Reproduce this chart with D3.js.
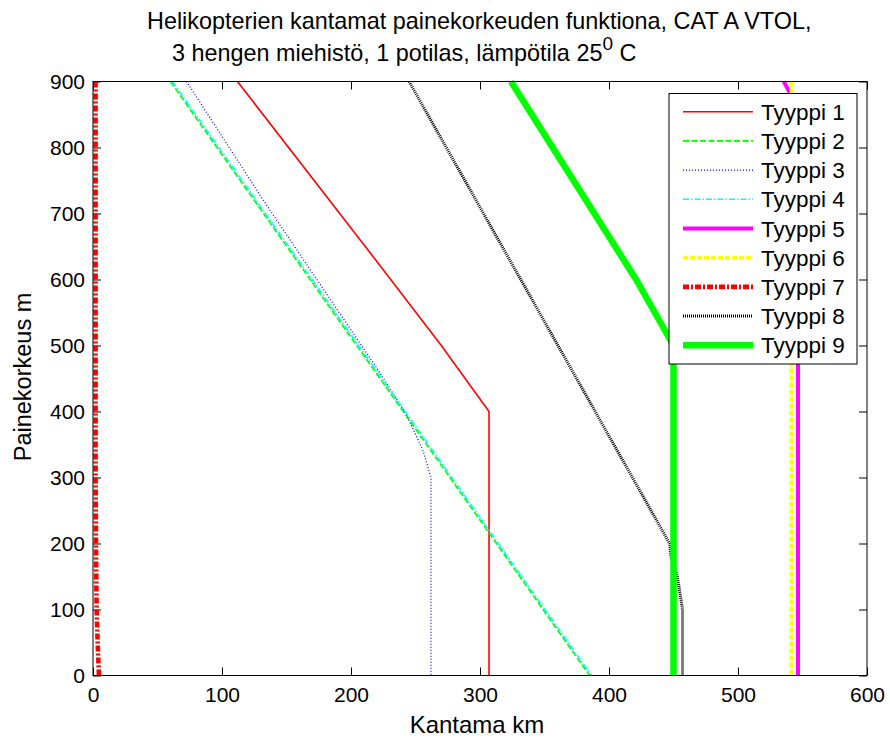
<!DOCTYPE html>
<html>
<head>
<meta charset="utf-8">
<script src="https://cdn.jsdelivr.net/npm/d3@7"></script>
<style>
  body { margin: 0; background: #fff; }
  text { font-family: "Liberation Sans", Arial, sans-serif; fill: #000; }
</style>
</head>
<body>
<div id="chart"></div>
<script>
// range (km) as function of pressure altitude (m)
var tyyppi1 = [{h:900, r:112}, {h:630, r:219}, {h:500, r:270}, {h:400, r:307}, {h:0, r:307}];
var tyyppi2 = [{h:900, r:60}, {h:0, r:385}];
var tyyppi3 = [{h:900, r:72.5}, {h:720, r:132}, {h:460, r:222}, {h:395, r:243}, {h:340, r:256}, {h:300, r:262}, {h:0, r:262}];
var tyyppi4 = [{h:900, r:61.5}, {h:0, r:386.5}];
var tyyppi5 = [{h:900, r:535.5}, {h:860, r:546.5}, {h:0, r:546.5}];
var tyyppi6 = [{h:900, r:541.5}, {h:0, r:541.5}];
var tyyppi7 = [{h:900, r:2}, {h:300, r:2}, {h:200, r:2.3}, {h:100, r:2.8}, {h:50, r:3.6}, {h:0, r:4.6}];
var tyyppi8 = [{h:900, r:245}, {h:200, r:447}, {h:180, r:448}, {h:150, r:453}, {h:100, r:457}, {h:0, r:457}];
var tyyppi9 = [{h:900, r:324}, {h:600, r:421}, {h:500, r:450}, {h:0, r:450}];

var xTicks = [0, 100, 200, 300, 400, 500, 600];
var yTicks = [0, 100, 200, 300, 400, 500, 600, 700, 800, 900];

// line styles in the order of the legend
var series = [
    {name: "Tyyppi 1", data: tyyppi1, colour: "#ff0000", width: 1.6, dash: null},
    {name: "Tyyppi 2", data: tyyppi2, colour: "#00ff00", width: 1.6, dash: "6,2.5"},
    {name: "Tyyppi 3", data: tyyppi3, colour: "#0000ff", width: 1.2, dash: "1,2"},
    {name: "Tyyppi 4", data: tyyppi4, colour: "#00ffff", width: 1.6, dash: "6,2,1.5,2"},
    {name: "Tyyppi 5", data: tyyppi5, colour: "#ff00ff", width: 4, dash: null},
    {name: "Tyyppi 6", data: tyyppi6, colour: "#ffff00", width: 4, dash: "5,2"},
    {name: "Tyyppi 7", data: tyyppi7, colour: "#ff0000", width: 4.6, dash: "6,2,2,2"},
    {name: "Tyyppi 8", data: tyyppi8, colour: "#000000", width: 3, dash: "1,1"},
    {name: "Tyyppi 9", data: tyyppi9, colour: "#00ff00", width: 6.5, dash: null}
];

var plot = {left: 93, right: 867, top: 81.5, bottom: 675.5};

var svg = d3.select("#chart")
    .append("svg")
    .attr("width", 890)
    .attr("height", 740);

svg.append("rect")
    .attr("width", 890).attr("height", 740)
    .attr("fill", "#fff");

// scales
var x = d3.scaleLinear().domain([0, 600]).range([plot.left, plot.right]);
var y = d3.scaleLinear().domain([0, 900]).range([plot.bottom, plot.top]);

// title
var title = svg.append("g").attr("font-size", 23.4);
title.append("text")
    .attr("x", 147).attr("y", 29)
    .text("Helikopterien kantamat painekorkeuden funktiona, CAT A VTOL,");
var t2 = title.append("text")
    .attr("x", 172).attr("y", 61);
t2.append("tspan").text("3 hengen miehistö, 1 potilas, lämpötila 25");
t2.append("tspan").attr("dy", -11).attr("font-size", 19).text("0");
t2.append("tspan").attr("dy", 11).text(" C");

// axes, ticks pointing inward, box on
var fontTicks = 21;
svg.append("g")
    .attr("transform", "translate(0," + plot.bottom + ")")
    .call(d3.axisBottom(x).tickValues(xTicks).tickSizeInner(-8).tickSizeOuter(0).tickPadding(12))
    .call(function (g) { g.select(".domain").remove(); })
    .selectAll("text").attr("font-size", fontTicks).attr("font-family", null);

svg.append("g")
    .attr("transform", "translate(" + plot.left + ",0)")
    .call(d3.axisLeft(y).tickValues(yTicks).tickSizeInner(-8).tickSizeOuter(0).tickPadding(8))
    .call(function (g) { g.select(".domain").remove(); })
    .selectAll("text").attr("font-size", fontTicks).attr("font-family", null);

svg.append("g")
    .attr("transform", "translate(0," + plot.top + ")")
    .call(d3.axisTop(x).tickValues(xTicks).tickSizeInner(-8).tickSizeOuter(0).tickFormat(""))
    .call(function (g) { g.select(".domain").remove(); });

svg.append("g")
    .attr("transform", "translate(" + plot.right + ",0)")
    .call(d3.axisRight(y).tickValues(yTicks).tickSizeInner(-8).tickSizeOuter(0).tickFormat(""))
    .call(function (g) { g.select(".domain").remove(); });

// axis labels
svg.append("text")
    .attr("text-anchor", "middle")
    .attr("x", 477).attr("y", 733)
    .attr("font-size", 24)
    .text("Kantama km");

svg.append("text")
    .attr("text-anchor", "middle")
    .attr("transform", "translate(31,377) rotate(-90)")
    .attr("font-size", 23.5)
    .text("Painekorkeus m");

// lines
var lineGen = d3.line()
    .x(function (d) { return x(d.r); })
    .y(function (d) { return y(d.h); });

svg.append("g").selectAll("path")
    .data(series)
    .enter()
    .append("path")
    .attr("d", function (d) { return lineGen(d.data); })
    .attr("fill", "none")
    .attr("stroke", function (d) { return d.colour; })
    .attr("stroke-width", function (d) { return d.width; })
    .attr("stroke-dasharray", function (d) { return d.dash; });

// axes box
svg.append("rect")
    .attr("x", plot.left).attr("y", plot.top)
    .attr("width", plot.right - plot.left)
    .attr("height", plot.bottom - plot.top)
    .attr("fill", "none")
    .attr("stroke", "#000")
    .attr("stroke-width", 1);

// legend
var legend = svg.append("g");
legend.append("rect")
    .attr("x", 669).attr("y", 93.5)
    .attr("width", 188).attr("height", 270.5)
    .attr("fill", "#fff")
    .attr("stroke", "#000");

var rows = legend.selectAll("g.row")
    .data(series)
    .enter()
    .append("g")
    .attr("transform", function (d, i) { return "translate(0," + (111.7 + i * 29.2) + ")"; });

rows.append("line")
    .attr("x1", 683).attr("x2", 753)
    .attr("stroke", function (d) { return d.colour; })
    .attr("stroke-width", function (d) { return d.width; })
    .attr("stroke-dasharray", function (d) { return d.dash; });

rows.append("text")
    .attr("x", 761)
    .attr("y", 8)
    .attr("font-size", 22.5)
    .text(function (d) { return d.name; });
</script>
</body>
</html>
